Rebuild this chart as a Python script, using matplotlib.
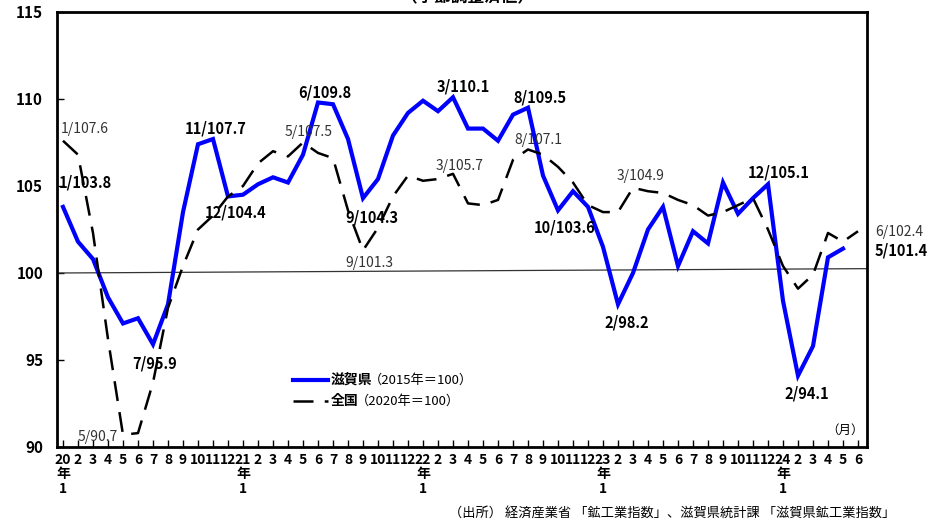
import matplotlib
matplotlib.use("Agg")
import matplotlib.pyplot as plt
from matplotlib.lines import Line2D

plt.rcParams['font.family'] = ['Noto Sans CJK JP', 'DejaVu Sans']

## datos
anios = ['20', '21', '22', '23', '24']
meses = list(range(1, 13))
n_meses = 54  # 2020/1 - 2024/6

# 滋賀県 (2015年=100) 2020/1 - 2024/5
shiga = [103.8, 101.8, 100.8, 98.6, 97.1, 97.4, 95.9, 98.2, 103.5, 107.4, 107.7, 104.4,
         104.5, 105.1, 105.5, 105.2, 106.8, 109.8, 109.7, 107.7, 104.3, 105.4, 107.9, 109.2,
         109.9, 109.3, 110.1, 108.3, 108.3, 107.6, 109.1, 109.5, 105.6, 103.6, 104.7, 103.8,
         101.5, 98.2, 100.0, 102.5, 103.8, 100.4, 102.4, 101.7, 105.2, 103.4, 104.3, 105.1,
         98.4, 94.1, 95.8, 100.9, 101.4]
# 全国 (2020年=100) 2020/1 - 2024/6
zenkoku = [107.6, 106.8, 102.3, 96.2, 90.7, 90.8, 93.7, 98.0, 100.4, 102.5, 103.3, 104.4,
           105.0, 106.3, 107.0, 106.7, 107.5, 106.9, 106.6, 103.6, 101.3, 102.6, 104.4, 105.6,
           105.3, 105.4, 105.7, 104.0, 103.9, 104.2, 106.5, 107.1, 106.8, 106.1, 105.2, 103.9,
           103.5, 103.5, 104.9, 104.7, 104.6, 104.2, 103.9, 103.3, 103.5, 103.9, 104.3, 102.5,
           100.4, 99.1, 99.9, 102.3, 101.8, 102.4]
linea_100 = [100.0, 100.25]

# etiquetas (texto, x, y)
etiq_shiga = [('1/103.8', -0.27, 105.2), ('11/107.7', 8.13, 108.3), ('12/104.4', 9.47, 103.5),
              ('7/95.9', 4.6, 94.8), ('6/109.8', 15.67, 110.4), ('9/104.3', 18.8, 103.2),
              ('3/110.1', 24.93, 110.73), ('8/109.5', 30.0, 110.1), ('10/103.6', 31.4, 102.6),
              ('2/98.2', 36.07, 97.13), ('12/105.1', 45.67, 105.79), ('2/94.1', 48.07, 93.09),
              ('5/101.4', 54.13, 101.27)]
etiq_zenkoku = [('1/107.6', -0.13, 108.29), ('5/107.5', 14.8, 108.1), ('3/105.7', 24.87, 106.17),
                ('8/107.1', 30.07, 107.62), ('9/101.3', 18.85, 100.6), ('5/90.7', 0.96, 90.6),
                ('3/104.9', 36.9, 105.6), ('6/102.4', 54.13, 102.38)]
## fin datos

fig = plt.figure(figsize=(9.44, 5.22), dpi=100)
ax = fig.add_axes([57/944, 1 - 447/522, 810/944, 435/522])

x_all = list(range(n_meses))
ax.plot(x_all[:len(shiga)], shiga, color='#0000ff', lw=3.0, zorder=3, solid_joinstyle='miter')
ax.plot(x_all, zenkoku, color='black', lw=1.8, dashes=(8, 4.5), zorder=4)
ax.plot([-0.4, 53.6], linea_100, color='#333333', lw=0.9, zorder=2)

ax.set_xlim(-0.4, 53.6)
ax.set_ylim(90, 115)
ax.set_yticks([90, 95, 100, 105, 110, 115])
ax.set_yticklabels(['90', '95', '100', '105', '110', '115'], fontweight='bold', fontsize=11)

etiquetas_x = []
for i in range(n_meses):
    m = meses[i % 12]
    if m == 1:
        etiquetas_x.append(anios[i // 12] + '\n年\n1')
    else:
        etiquetas_x.append(str(m))
ax.set_xticks(x_all)
ax.set_xticklabels(etiquetas_x, fontweight='bold', fontsize=10, linespacing=1.05)
ax.tick_params(axis='x', direction='in', length=5, width=1, pad=4)
ax.tick_params(axis='y', direction='in', length=5, width=1, pad=10)
for s in ax.spines.values():
    s.set_linewidth(2)

for t, x, y in etiq_shiga:
    ax.text(x, y, t, ha='left', va='center', fontsize=10.5, fontweight='bold', color='black')
for t, x, y in etiq_zenkoku:
    ax.text(x, y, t, ha='left', va='center', fontsize=10, color='#333333')

## leyenda
fig.add_artist(Line2D([293/944, 328/944], [1 - 380/522] * 2, color='#0000ff', lw=3))
fig.add_artist(Line2D([293/944, 328/944], [1 - 401/522] * 2, color='black', lw=1.8, dashes=(8, 4.5)))
fig.text(331/944, 1 - 380/522, '滋賀県', ha='left', va='center', fontsize=10, fontweight='bold')
fig.text(369/944, 1 - 380/522, '（2015年＝100）', ha='left', va='center', fontsize=9.5)
fig.text(331/944, 1 - 401/522, '全国', ha='left', va='center', fontsize=10, fontweight='bold')
fig.text(356/944, 1 - 401/522, '（2020年＝100）', ha='left', va='center', fontsize=9.5)

fig.text(864/944, 1 - 430/522, '（月）', ha='right', va='center', fontsize=9)
fig.text(895/944, 1 - 513/522, '（出所） 経済産業省 「鉱工業指数」、滋賀県統計課 「滋賀県鉱工業指数」',
         ha='right', va='center', fontsize=9.5)
fig.text(468/944, 1 - 6/522, '（季節調整済値）', ha='center', va='bottom', fontsize=12, fontweight='bold')

fig.savefig('out.png', dpi=100)
